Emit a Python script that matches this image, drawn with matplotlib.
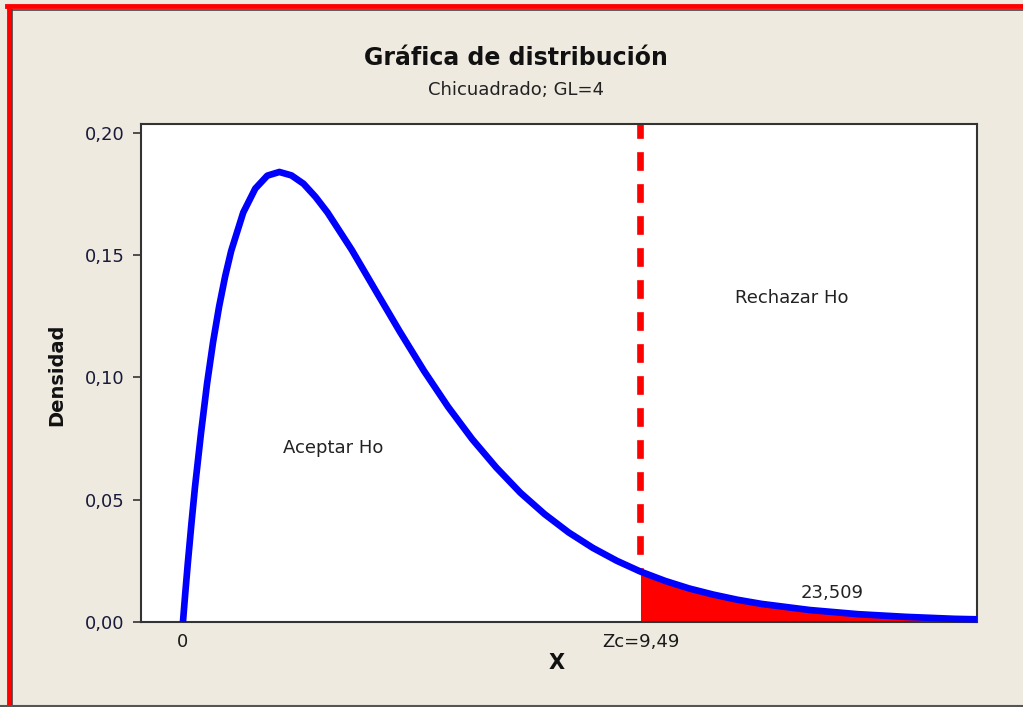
import matplotlib
matplotlib.use("Agg")
import matplotlib.pyplot as plt
from matplotlib.lines import Line2D

# Density curve (Chi-square, GL=4)
x_vals = [0.0, 0.05, 0.1, 0.175, 0.25, 0.375, 0.5, 0.625, 0.75, 0.875, 1.0, 1.25, 1.5,
          1.75, 2.0, 2.25, 2.5, 2.75, 3.0, 3.5, 4.0, 4.5, 5.0, 5.5, 6.0, 6.5,
          7.0, 7.5, 8.0, 8.5, 9.0, 9.49, 10.0, 10.5, 11.0, 11.5, 12.0, 13.0,
          14.0, 15.0, 16.0, 16.47]
dens = [0.0, 0.0122, 0.0238, 0.0400, 0.0552, 0.0773, 0.0974, 0.1144, 0.1289, 0.1412,
        0.1516, 0.1673, 0.1771, 0.1824, 0.1839, 0.1825, 0.1791, 0.1737, 0.1673,
        0.1521, 0.1353, 0.1186, 0.1026, 0.0879, 0.0747, 0.0631, 0.0528, 0.0441,
        0.0366, 0.0303, 0.0250, 0.0206, 0.0168, 0.0137, 0.0112, 0.0091, 0.0074,
        0.0049, 0.0032, 0.0021, 0.0013, 0.0011]

critical = 9.49
y_ticks = [0.00, 0.05, 0.10, 0.15, 0.20]
y_tick_labels = ["0,00", "0,05", "0,10", "0,15", "0,20"]
x_ticks = [0.0, critical]
x_tick_labels = ["0", "Zc=9,49"]

bg = "#EEEAE0"
plt.rcParams['font.family'] = ['DejaVu Sans']

fig = plt.figure(figsize=(10.23, 7.07), dpi=100, facecolor=bg)
ax = fig.add_axes([141/1023, 1 - 622/707, (977-141)/1023, (622-124)/707])
ax.set_facecolor("white")

# red rejection region
xs_fill = [x for x in x_vals if x >= critical]
ys_fill = [d for x, d in zip(x_vals, dens) if x >= critical]
ax.fill_between(xs_fill, 0, ys_fill, color="red", lw=0, zorder=2)

ax.plot(x_vals, dens, color="blue", lw=4.8, solid_capstyle="butt", solid_joinstyle="round",
        zorder=3, clip_on=False)

ax.axvline(critical, ymin=0.02 / 0.2035, color="red", lw=4.8, ls=(2.0, (2.8, 2.0)),
           dash_capstyle="butt", zorder=2)

ax.set_xlim(-0.87, 16.47)
ax.set_ylim(0, 0.2035)
ax.set_yticks(y_ticks)
ax.set_yticklabels(y_tick_labels, fontsize=13, color="#1a1a3a")
ax.set_xticks(x_ticks)
ax.set_xticklabels(x_tick_labels, fontsize=13, color="#1a1a1a")
ax.tick_params(axis="x", length=0, pad=8)
ax.tick_params(axis="y", length=6, width=1.2, color="#333333", pad=6)
for s in ax.spines.values():
    s.set_color("#333333")
    s.set_linewidth(1.5)

ax.text(3.11, 0.0712, "Aceptar Ho", fontsize=13, ha="center", va="center", color="#222222")
ax.text(12.63, 0.1325, "Rechazar Ho", fontsize=13, ha="center", va="center", color="#222222")
ax.text(13.46, 0.0120, "23,509", fontsize=13, ha="center", va="center", color="#222222")

fig.text(516/1023, 1 - 58/707, "Gráfica de distribución", fontsize=17, fontweight="bold",
         ha="center", va="center", color="#111111")
fig.text(516/1023, 1 - 90/707, "Chicuadrado; GL=4", fontsize=13, ha="center", va="center",
         color="#222222")
fig.text(557/1023, 1 - 663/707, "X", fontsize=15, fontweight="bold", ha="center", va="center",
         color="#111111")
fig.text(57/1023, 1 - 375/707, "Densidad", fontsize=14, fontweight="bold", ha="center",
         va="center", rotation=90, color="#111111")

# outer frame: red on left and top, dark gray inside
fig.add_artist(Line2D([9/1023, 9/1023], [0, 1 - 7/707], color="red", lw=3.5, transform=fig.transFigure))
fig.add_artist(Line2D([7/1023, 1], [1 - 6/707, 1 - 6/707], color="red", lw=3.5, transform=fig.transFigure))
fig.add_artist(Line2D([12/1023, 1], [1 - 10/707, 1 - 10/707], color="#444444", lw=1.2, transform=fig.transFigure))
fig.add_artist(Line2D([12/1023, 12/1023], [0, 1 - 10/707], color="#444444", lw=1.2, transform=fig.transFigure))
fig.add_artist(Line2D([0, 1], [1/707, 1/707], color="#555555", lw=1.5, transform=fig.transFigure))

fig.savefig("out.png", dpi=100, facecolor=bg)
